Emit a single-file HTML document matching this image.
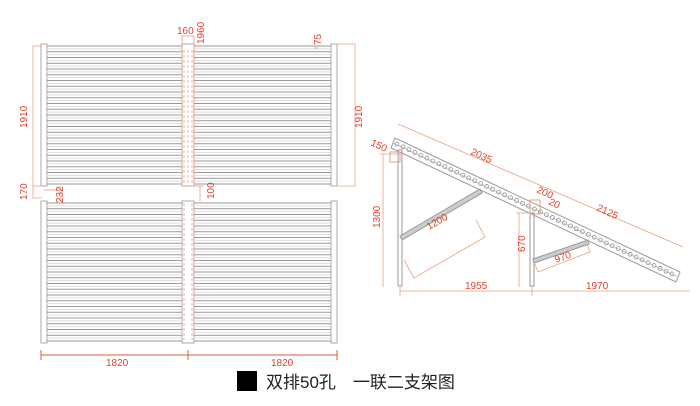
<!DOCTYPE html>
<html><head><meta charset="utf-8"><style>
html,body{margin:0;padding:0;background:#fff;}
svg{display:block;}
text{font-family:"Liberation Sans",sans-serif;fill:#e0402a;font-size:10px;}
.cap{font-family:"Liberation Sans","Noto Sans CJK SC",sans-serif;fill:#222;font-size:17px;}
</style></head><body>
<svg id="s" width="700" height="406" viewBox="0 0 700 406" xmlns="http://www.w3.org/2000/svg">
<g id="panels" fill="none" stroke="#aaa" stroke-width="1"></g>
<g id="side" fill="none" stroke="#999" stroke-width="1"></g>
<g fill="none" stroke="#e8a080" stroke-width="0.8">
 <polyline points="42,46 33,46 33,186 42,186"/>
 <polyline points="33,186 33,198 42,198"/>
 <line x1="44" y1="190" x2="60" y2="190"/><line x1="60" y1="186" x2="60" y2="201"/>
 <polyline points="336,44 355,44 355,186 336,186"/>
 <rect x="182" y="36" width="12" height="150"/>
 <line x1="194" y1="186" x2="204" y2="186"/><line x1="200" y1="186" x2="200" y2="201"/>
 <line x1="314" y1="48" x2="318" y2="48"/>
 <line x1="188" y1="50" x2="188" y2="185" stroke-dasharray="3,2"/>
 <line x1="184" y1="50" x2="184" y2="185" stroke-dasharray="3,2"/>
 <line x1="192" y1="50" x2="192" y2="185" stroke-dasharray="3,2"/>
 <line x1="184" y1="203" x2="184" y2="340" stroke-dasharray="3,2"/>
 <line x1="192" y1="203" x2="192" y2="340" stroke-dasharray="3,2"/>
 <line x1="398" y1="124" x2="683" y2="247"/>
 <line x1="383" y1="154" x2="383" y2="287"/><line x1="380" y1="154" x2="400" y2="154"/>
 <line x1="519" y1="213" x2="519" y2="287"/><line x1="516" y1="213" x2="532" y2="213"/>
 <line x1="400" y1="291" x2="690" y2="291"/>
 <line x1="400" y1="286" x2="400" y2="296"/><line x1="532" y1="286" x2="532" y2="296"/>
 <polyline points="404,260 414,278 485,237 476,220"/>
 <polyline points="534,262 538,272 590,252 587,244"/>
</g>
<g stroke="#e05a40" stroke-width="1" fill="none">
 <line x1="41" y1="355" x2="337" y2="355"/>
 <line x1="41" y1="350" x2="41" y2="360"/><line x1="188" y1="350" x2="188" y2="360"/><line x1="337" y1="350" x2="337" y2="360"/>
</g>
<text x="106" y="366" font-size="11">1820</text>
<text x="271" y="366" font-size="11">1820</text>
<text x="177" y="34" font-size="11">160</text>
<text transform="translate(204,44) rotate(-90)" font-size="11">1960</text>
<text transform="translate(321,45) rotate(-90)" font-size="11">75</text>
<text transform="translate(27,128) rotate(-90)" font-size="11">1910</text>
<text transform="translate(362,128) rotate(-90)" font-size="11">1910</text>
<text transform="translate(27,200) rotate(-90)" font-size="11">170</text>
<text transform="translate(63,203) rotate(-90)" font-size="11">232</text>
<text transform="translate(214,199) rotate(-90)" font-size="11">100</text>
<text transform="translate(370,145) rotate(25)" font-size="11">150</text>
<text transform="translate(470,154) rotate(25)" font-size="11">2035</text>
<text transform="translate(596,210) rotate(25)" font-size="11">2125</text>
<text transform="translate(536,192) rotate(25)" font-size="11">200</text>
<text transform="translate(548,204) rotate(25)" font-size="11">20</text>
<text transform="translate(429,230) rotate(-30)" font-size="11">1200</text>
<text transform="translate(556,263) rotate(-20)" font-size="11">970</text>
<text transform="translate(380,228) rotate(-90)" font-size="11">1300</text>
<text transform="translate(525,252) rotate(-90)" font-size="11">670</text>
<text x="465" y="289" font-size="11">1955</text>
<text x="586" y="289" font-size="11">1970</text>
<rect x="237" y="371" width="20" height="20" fill="#000"/>
<text class="cap" x="266" y="388">双排50孔　一联二支架图</text>
</svg>
<script>
var NS="http://www.w3.org/2000/svg";
function el(p,t,a){var e=document.createElementNS(NS,t);for(var k in a)e.setAttribute(k,a[k]);p.appendChild(e);return e;}
var P=document.getElementById("panels");
[[44,186],[201,343]].forEach(function(r){
 var y0=r[0],y1=r[1];
 el(P,"rect",{x:41,y:y0,width:6,height:y1-y0});
 el(P,"rect",{x:331,y:y0,width:6,height:y1-y0});
 el(P,"rect",{x:182,y:y0,width:12,height:y1-y0});
 var n=24;
 for(var i=0;i<=n;i++){var y=y0+2+i*(y1-y0-4)/n;
  el(P,"line",{x1:47,y1:y,x2:182,y2:y,stroke:"#999"});
  el(P,"line",{x1:194,y1:y,x2:331,y2:y,stroke:"#999"});
  if(i<n){var yy=y+(y1-y0-4)/n/2;
  el(P,"line",{x1:47,y1:yy,x2:182,y2:yy,stroke:"#ddd"});
  el(P,"line",{x1:194,y1:yy,x2:331,y2:yy,stroke:"#ddd"});}
 }
});
var S=document.getElementById("side");
var ax=395,ay=138,bx=680,by=272;
el(S,"polygon",{points:ax+","+ay+" "+bx+","+by+" "+(bx-4)+","+(by+10)+" "+(ax-4)+","+(ay+10)});
el(S,"line",{x1:ax-2,y1:ay+5,x2:bx-2,y2:by+5,stroke:"#ccc"});
for(var i=0;i<=46;i++){var t=i/46;var cx=ax+4+(bx-ax-10)*t,cy=ay+6+(by-ay-4)*t;
 el(S,"circle",{cx:cx-2,cy:cy,r:2,stroke:"#888","stroke-width":0.7});}
el(S,"rect",{x:398,y:150,width:4,height:136});
el(S,"rect",{x:530,y:213,width:4,height:73});
el(S,"polygon",{points:"400,236 480,189 482,193 402,240",fill:"#ccc"});
el(S,"polygon",{points:"533,259 588,240 589,244 534,263",fill:"#ccc"});
el(S,"rect",{x:530,y:200,width:10,height:14,stroke:"#e8a080"});
el(S,"rect",{x:390,y:152,width:10,height:10,stroke:"#e8a080"});
</script>
</body></html>
